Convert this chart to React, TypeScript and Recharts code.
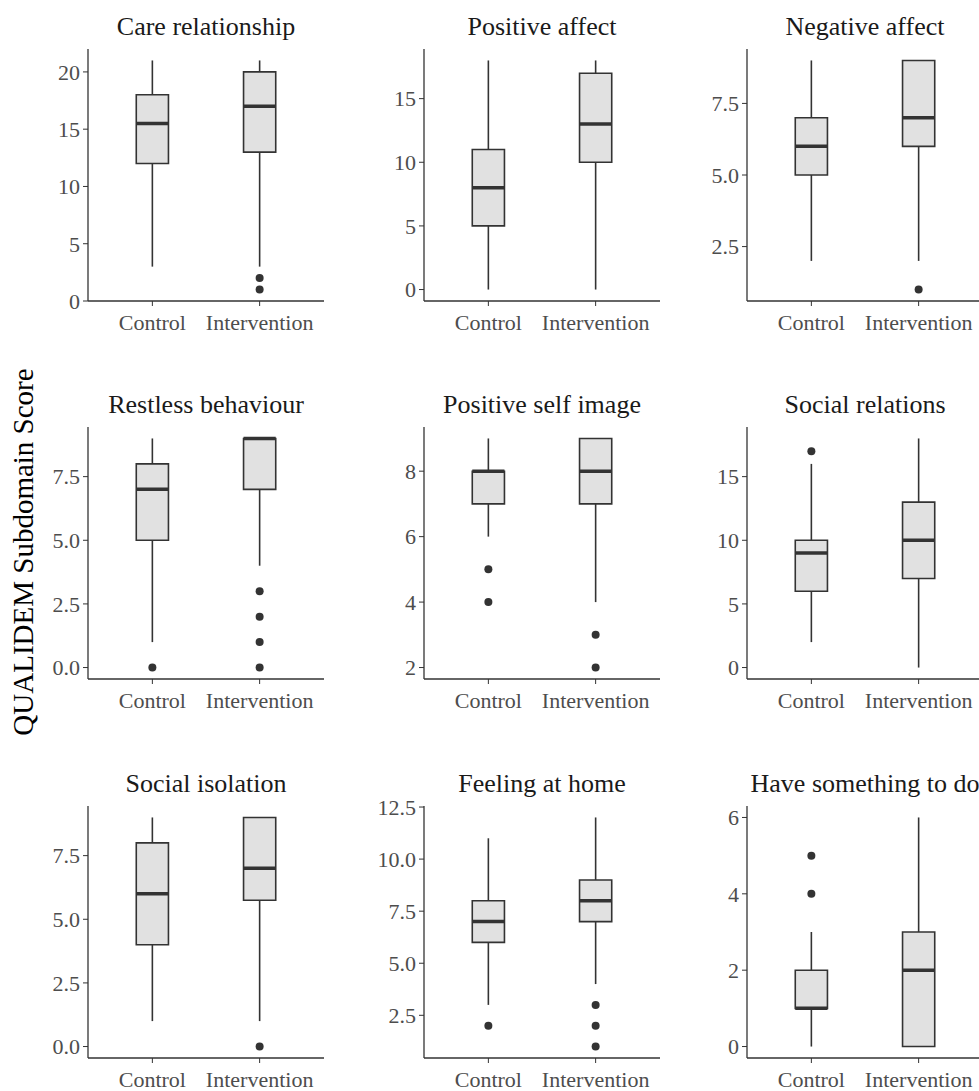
import React from "react";
import { ComposedChart, XAxis, YAxis, ReferenceArea, ReferenceLine, Scatter } from "recharts";

const groups = ["Control", "Intervention"];
const panelTitles = [
  "Care relationship", "Positive affect", "Negative affect",
  "Restless behaviour", "Positive self image", "Social relations",
  "Social isolation", "Feeling at home", "Have something to do",
];

// one pair per panel: [Control, Intervention]
const whiskerLow = [[3, 3], [0, 0], [2, 2], [1, 4], [6, 4], [2, 0], [1, 1], [3, 4], [0, 0]];
const lowerQuartile = [[12, 13], [5, 10], [5, 6], [5, 7], [7, 7], [6, 7], [4, 5.75], [6, 7], [1, 0]];
const medians = [[15.5, 17], [8, 13], [6, 7], [7, 9], [8, 8], [9, 10], [6, 7], [7, 8], [1, 2]];
const upperQuartile = [[18, 20], [11, 17], [7, 9], [8, 9], [8, 9], [10, 13], [8, 9], [8, 9], [2, 3]];
const whiskerHigh = [[21, 21], [18, 18], [9, 9], [9, 9], [9, 9], [16, 18], [9, 9], [11, 12], [3, 6]];
const outliers = [
  [[], [1, 2]], [[], []], [[], [1]],
  [[0], [0, 1, 2, 3]], [[4, 5], [2, 3]], [[17], []],
  [[], [0]], [[2], [1, 2, 3]], [[4, 5], []],
];
const yTicks = [
  [0, 5, 10, 15, 20], [0, 5, 10, 15], [2.5, 5, 7.5],
  [0, 2.5, 5, 7.5], [2, 4, 6, 8], [0, 5, 10, 15],
  [0, 2.5, 5, 7.5], [2.5, 5, 7.5, 10, 12.5], [0, 2, 4, 6],
];
const tickDecimals = [0, 0, 1, 1, 0, 0, 1, 1, 0];

// layout
const colX = [88, 424, 747];
const rowY = [49, 427, 806];
const titleBase = [35, 413, 792];
const plotW = 236;
const plotH = 252;
const axisW = 60;
const padTop = 12;
const font = "'Liberation Serif', 'Times New Roman', serif";
const dark = "#333333";
const halfBox = 0.15;

const dot = (p: any) => <circle cx={p.cx} cy={p.cy} r={4} fill={dark} />;

function Panel({ i }: { i: number }) {
  const all = [...whiskerLow[i], ...whiskerHigh[i], ...outliers[i][0], ...outliers[i][1]];
  const lo = Math.min(...all);
  const hi = Math.max(...all);
  const pad = (hi - lo) * 0.05;
  const pts = outliers[i].flatMap((vals, g) => vals.map((v) => ({ x: g + 1, y: v })));
  const left = colX[i % 3] - axisW;
  const top = rowY[Math.floor(i / 3)] - padTop;

  return (
    <div style={{ position: "absolute", left, top }}>
      <ComposedChart width={axisW + plotW + 10} height={padTop + plotH + 50}
        margin={{ top: padTop, right: 10, bottom: 0, left: 0 }}>
        <XAxis dataKey="x" type="number" domain={[0.4, 2.6]} ticks={[1, 2]} allowDataOverflow
          tickFormatter={(v) => groups[v - 1]} height={50} tickSize={5} tickMargin={8}
          axisLine={{ stroke: dark, strokeWidth: 1.3 }} tickLine={{ stroke: dark }}
          tick={{ fill: "#4D4D4D", fontSize: 22, fontFamily: font }} />
        <YAxis dataKey="y" type="number" domain={[lo - pad, hi + pad]} ticks={yTicks[i]} allowDataOverflow
          tickFormatter={(v) => v.toFixed(tickDecimals[i])} width={axisW} tickSize={5} tickMargin={3}
          axisLine={{ stroke: dark, strokeWidth: 1.3 }} tickLine={{ stroke: dark }}
          tick={{ fill: "#4D4D4D", fontSize: 22, fontFamily: font }} />
        {groups.map((_, g) => (
          <React.Fragment key={g}>
            <ReferenceLine segment={[{ x: g + 1, y: whiskerLow[i][g] }, { x: g + 1, y: lowerQuartile[i][g] }]}
              stroke={dark} strokeWidth={1.6} />
            <ReferenceLine segment={[{ x: g + 1, y: upperQuartile[i][g] }, { x: g + 1, y: whiskerHigh[i][g] }]}
              stroke={dark} strokeWidth={1.6} />
            <ReferenceArea x1={g + 1 - halfBox} x2={g + 1 + halfBox} y1={lowerQuartile[i][g]} y2={upperQuartile[i][g]}
              fill="#E1E1E1" fillOpacity={1} stroke={dark} strokeWidth={1.6} />
            <ReferenceLine segment={[{ x: g + 1 - halfBox, y: medians[i][g] }, { x: g + 1 + halfBox, y: medians[i][g] }]}
              stroke={dark} strokeWidth={3.5} />
          </React.Fragment>
        ))}
        <Scatter data={pts} dataKey="y" shape={dot} isAnimationActive={false} />
      </ComposedChart>
    </div>
  );
}

export default function App() {
  return (
    <div style={{ position: "absolute", left: 0, top: 0, width: 979, height: 1091, overflow: "hidden", background: "#fff" }}>
      {panelTitles.map((_, i) => <Panel key={i} i={i} />)}
      <svg width={979} height={1091} style={{ position: "absolute", left: 0, top: 0, pointerEvents: "none" }}>
        {panelTitles.map((t, i) => (
          <text key={t} x={colX[i % 3] + plotW / 2} y={titleBase[Math.floor(i / 3)]} textAnchor="middle"
            fontSize={26} fontFamily={font} fill="#1a1a1a">{t}</text>
        ))}
        <text x={33} y={552} transform="rotate(-90, 33, 552)" textAnchor="middle" fontSize={29}
          fontFamily={font} fill="#000">QUALIDEM Subdomain Score</text>
      </svg>
    </div>
  );
}
